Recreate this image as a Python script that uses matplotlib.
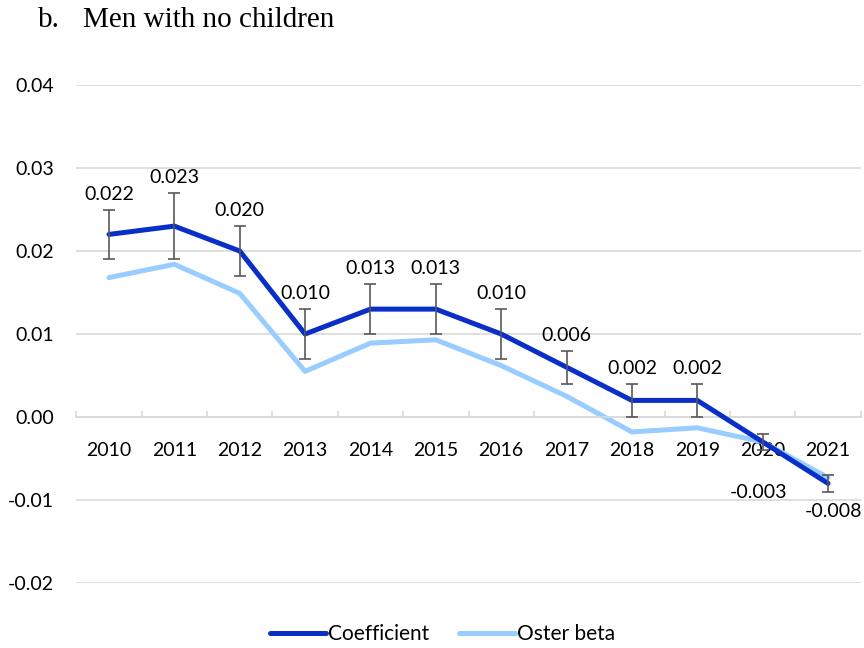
import matplotlib
matplotlib.use("Agg")
import matplotlib.pyplot as plt
import numpy as np

years = ["2010", "2011", "2012", "2013", "2014", "2015", "2016", "2017", "2018", "2019", "2020", "2021"]
coef = [0.022, 0.023, 0.020, 0.010, 0.013, 0.013, 0.010, 0.006, 0.002, 0.002, -0.003, -0.008]
err_low = [0.003, 0.004, 0.003, 0.003, 0.003, 0.003, 0.003, 0.002, 0.002, 0.002, 0.001, 0.001]
err_high = [0.003, 0.004, 0.003, 0.003, 0.003, 0.003, 0.003, 0.002, 0.002, 0.002, 0.001, 0.001]
oster = [0.0168, 0.0184, 0.0149, 0.0055, 0.0089, 0.0093, 0.0062, 0.0025, -0.0018, -0.0013, -0.0030, -0.0073]
labels = ["0.022", "0.023", "0.020", "0.010", "0.013", "0.013", "0.010", "0.006", "0.002", "0.002", "-0.003", "-0.008"]
yticks = [-0.02, -0.01, 0.00, 0.01, 0.02, 0.03, 0.04]

plt.rcParams['font.family'] = ['Lato', 'DejaVu Sans']
FS = 14

fig = plt.figure(figsize=(8.64, 6.48), dpi=100)
ax = fig.add_axes([0.0883, 0.1003, 0.9079, 0.7685])

x = np.arange(len(years))
ax.set_xlim(-0.5, len(years) - 0.5)
ax.set_ylim(-0.02, 0.04)

ax.set_yticks(yticks)
ax.set_yticklabels([f"{v:.2f}" for v in yticks], fontsize=FS)
ax.yaxis.grid(True, color="#D9D9D9", linewidth=1.2)
ax.set_axisbelow(True)
ax.tick_params(axis='y', length=0, pad=16)

for s in ['top', 'right', 'left']:
    ax.spines[s].set_visible(False)
ax.spines['bottom'].set_position(('data', 0))
ax.spines['bottom'].set_color("#D9D9D9")
ax.spines['bottom'].set_linewidth(1.2)

ax.set_xticks(np.arange(-0.5, len(years), 1.0))
ax.set_xticklabels([])
ax.tick_params(axis='x', which='major', direction='in', length=4, color="#D9D9D9", width=1.2)
ax.set_xticks(x, minor=True)
ax.set_xticklabels(years, minor=True, fontsize=FS)
ax.tick_params(axis='x', which='minor', length=0, pad=18)

ax.plot(x, oster, color="#99CCFF", linewidth=3.6, solid_capstyle='round', label="Oster beta", zorder=2)
ax.plot(x, coef, color="#0A2FC8", linewidth=3.6, solid_capstyle='round', label="Coefficient", zorder=3)
ax.errorbar(x, coef, yerr=[err_low, err_high], fmt='none', ecolor="#595959", elinewidth=1.2,
            capsize=4.3, capthick=1.2, zorder=4)

neg_offsets = {10: (-3, -24), 11: (4, -8)}
for i, (xi, c, lab) in enumerate(zip(x, coef, labels)):
    if c >= 0:
        ax.annotate(lab, (xi, c + err_high[i]), xytext=(0, 5), textcoords='offset points',
                    ha='center', va='bottom', fontsize=FS)
    else:
        ax.annotate(lab, (xi, c - err_low[i]), xytext=neg_offsets.get(i, (0, -4)), textcoords='offset points',
                    ha='center', va='top', fontsize=FS)

handles, lbls = ax.get_legend_handles_labels()
order = [1, 0]
fig.legend([handles[o] for o in order], [lbls[o] for o in order], loc='center', bbox_to_anchor=(0.512, 0.021),
           ncol=2, frameon=False, fontsize=15, handlelength=2.7, handletextpad=0.1, columnspacing=1.4,
           borderpad=0.1)

fig.text(38 / 864, 1 - 27 / 648, "b.", family="Liberation Serif", fontsize=21, va='baseline', ha='left')
fig.text(83 / 864, 1 - 27 / 648, "Men with no children", family="Liberation Serif", fontsize=21,
         va='baseline', ha='left')

fig.savefig("out.png", dpi=100)
